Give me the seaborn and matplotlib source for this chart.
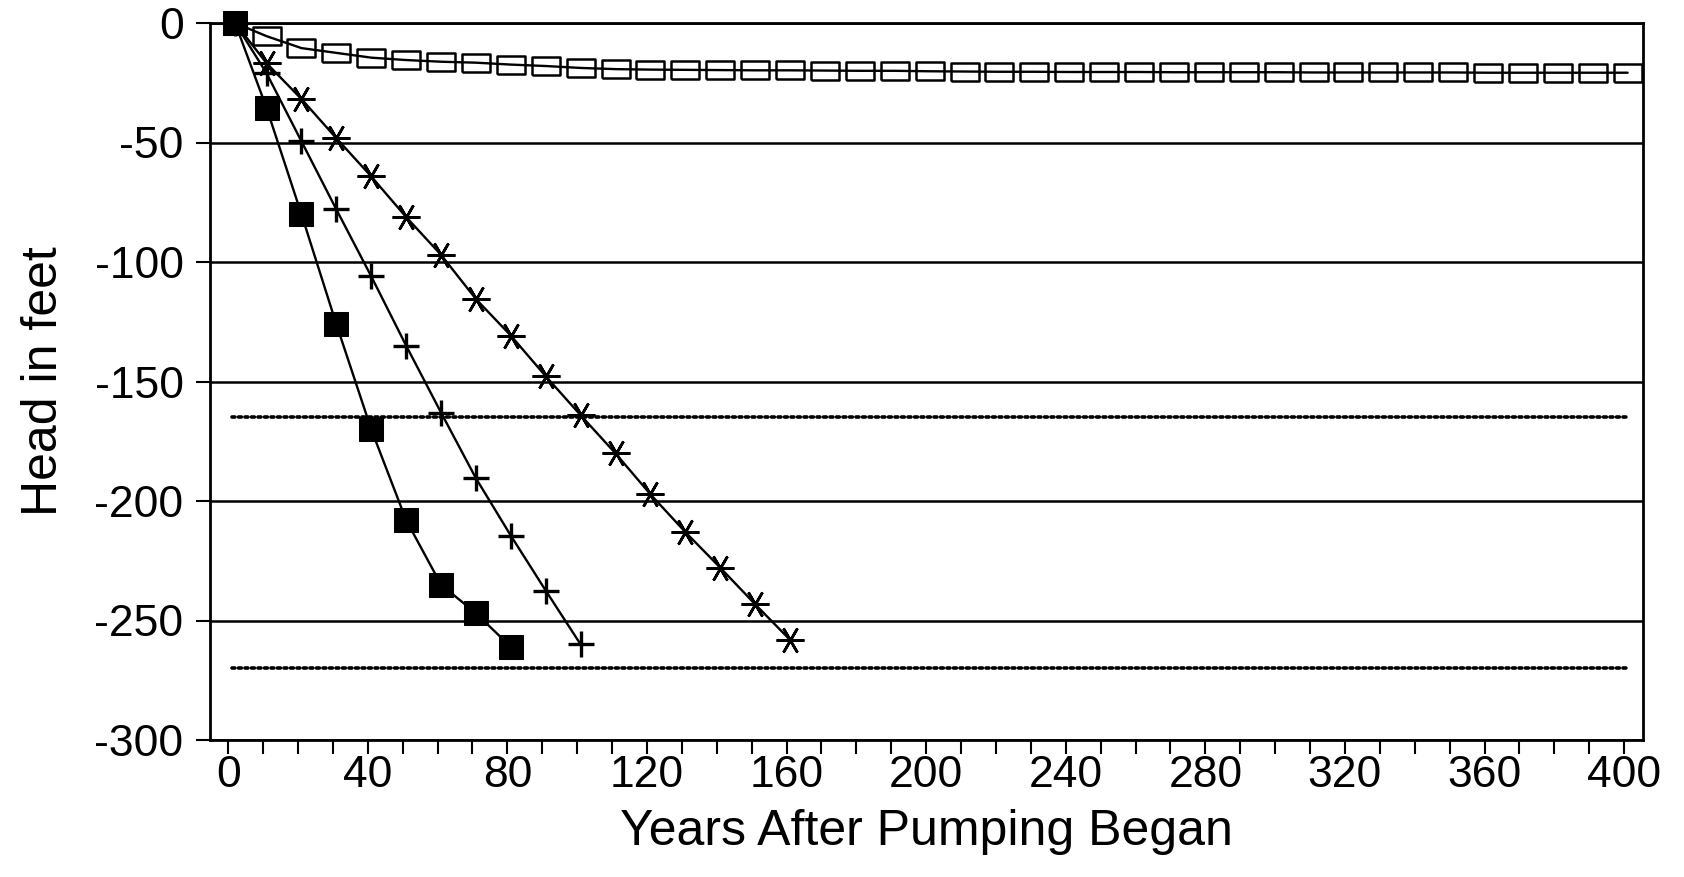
import matplotlib
matplotlib.use("Agg")
import matplotlib.pyplot as plt
import seaborn as sns
import pandas as pd
from matplotlib.ticker import MultipleLocator

# ---- data ----
years_filled = [2, 11, 21, 31, 41, 51, 61, 71, 81]
head_filled = [0, -35.5, -80, -126, -170, -208, -235, -247, -261]

years_plus = [2, 11, 21, 31, 41, 51, 61, 71, 81, 91, 101]
head_plus = [0, -21, -49.5, -78, -106, -135, -163, -190.5, -214.5, -237.5, -260]

years_star = [2, 11, 21, 31, 41, 51, 61, 71, 81, 91, 101, 111, 121, 131, 141, 151, 161]
head_star = [0, -16.8, -31.8, -48.2, -64.2, -81.2, -97.0, -115.5, -130.8, -147.8,
             -164.1, -180.1, -197.2, -213.0, -227.9, -243.2, -258.1]

years_open = [2, 11, 21, 31, 41, 51, 61, 71, 81, 91, 101, 111, 121, 131, 141, 151,
              161, 171, 181, 191, 201, 211, 221, 231, 241, 251, 261, 271, 281, 291,
              301, 311, 321, 331, 341, 351, 361, 371, 381, 391, 401]
head_open = [0, -5.5, -10.5, -12.5, -14.5, -15.5, -16.2, -16.6, -17.4, -18.0, -18.8,
             -19.3, -19.5, -19.6, -19.7, -19.8, -19.8, -19.9, -20.0, -20.0, -20.2,
             -20.3, -20.4, -20.4, -20.5, -20.5, -20.5, -20.6, -20.6, -20.6, -20.6,
             -20.7, -20.7, -20.7, -20.7, -20.7, -20.8, -20.8, -20.8, -20.8, -20.8]

limit_years = [1, 401]
limit_levels = [-165, -270]

x_ticks = [0, 40, 80, 120, 160, 200, 240, 280, 320, 360, 400]
y_ticks = [0, -50, -100, -150, -200, -250, -300]

# ---- styling ----
sns.set_style("white")
plt.rcParams["font.family"] = ["Liberation Sans", "DejaVu Sans"]
plt.rcParams["text.color"] = "black"
plt.rcParams["axes.labelcolor"] = "black"
plt.rcParams["xtick.color"] = "black"
plt.rcParams["ytick.color"] = "black"

fig = plt.figure(figsize=(16.84, 8.77), dpi=100)
ax = fig.add_axes([210 / 1684, 1 - 740 / 877, (1643 - 210) / 1684, (740 - 23) / 877])

# dotted threshold lines
for lvl in limit_levels:
    sns.lineplot(x=limit_years, y=[lvl, lvl], ax=ax, color="black", lw=2.6,
                 linestyle=(0, (0.8, 1.0)), dash_capstyle="round", legend=False)

rect_marker = [(-1, -0.66), (1, -0.66), (1, 0.66), (-1, 0.66), (-1, -0.66)]

df_open = pd.DataFrame({"Years": years_open, "Head": head_open})
sns.lineplot(data=df_open, x="Years", y="Head", ax=ax, color="black", lw=1.7,
             marker=rect_marker, markersize=20, markerfacecolor="none",
             markeredgecolor="black", markeredgewidth=1.8, legend=False,
             markevery=slice(1, None), clip_on=False)

df_star = pd.DataFrame({"Years": years_star, "Head": head_star})
sns.lineplot(data=df_star, x="Years", y="Head", ax=ax, color="black", lw=1.7,
             marker=(6, 2, 90), markersize=20, markeredgecolor="black",
             markeredgewidth=1.9, legend=False)

df_plus = pd.DataFrame({"Years": years_plus, "Head": head_plus})
sns.lineplot(data=df_plus, x="Years", y="Head", ax=ax, color="black", lw=1.7,
             marker="+", markersize=19, markeredgecolor="black",
             markeredgewidth=2.4, legend=False)

df_filled = pd.DataFrame({"Years": years_filled, "Head": head_filled})
sns.lineplot(data=df_filled, x="Years", y="Head", ax=ax, color="black", lw=1.7,
             marker="s", markersize=17.5, markerfacecolor="black",
             markeredgecolor="black", legend=False, clip_on=False, zorder=5)

ax.set_xlim(-5.2, 405.4)
ax.set_ylim(-300, 0)
ax.set_xticks(x_ticks)
ax.xaxis.set_minor_locator(MultipleLocator(10))
ax.set_yticks(y_ticks)
ax.set_yticklabels([str(v) for v in y_ticks])

ax.yaxis.grid(True, color="black", lw=1.8)
ax.xaxis.grid(False)
ax.set_axisbelow(True)

for s in ax.spines.values():
    s.set_visible(True)
    s.set_color("black")
    s.set_linewidth(2.0)

ax.tick_params(axis="x", which="both", direction="out", length=10, width=1.5,
               color="black", bottom=True, labelsize=32, pad=1, labelcolor="black")
ax.tick_params(axis="y", which="both", direction="out", length=10, width=1.5,
               color="black", left=True, labelsize=32, pad=9, labelcolor="black")

ax.set_xlabel("Years After Pumping Began", fontsize=36, color="black")
ax.set_ylabel("Head in feet", fontsize=36, color="black")
ax.xaxis.set_label_coords(0.5, -0.096)
ax.yaxis.set_label_coords(-0.1, 0.5)

fig.savefig("out.png", dpi=100, facecolor="white")
